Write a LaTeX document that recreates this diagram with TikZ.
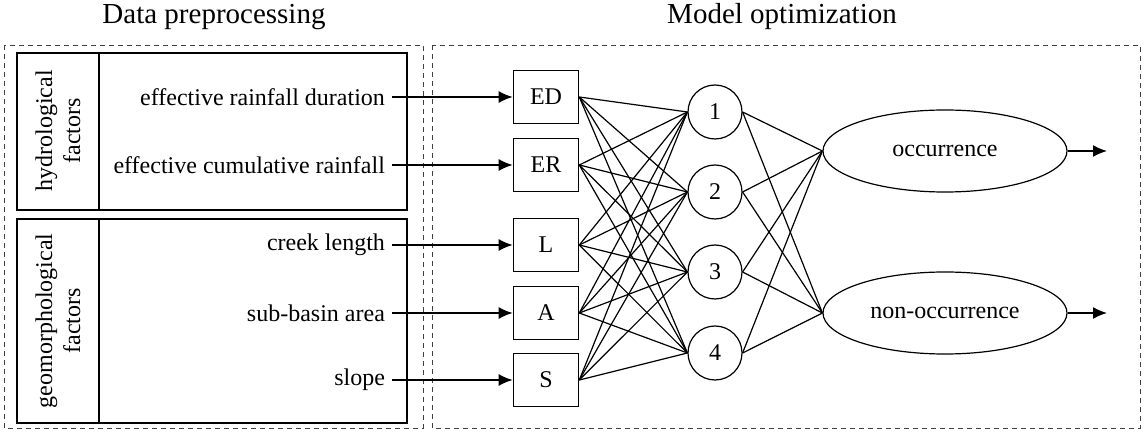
\documentclass[tikz,border=0pt]{standalone}
\usepackage{fontspec}
\setmainfont{Liberation Serif}
\usetikzlibrary{arrows.meta,shapes.geometric}
\tikzset{
  lbl/.style={font=\fontsize{12}{14}\selectfont},
  ttl/.style={font=\fontsize{14.5}{17}\selectfont},
  frame/.style={draw=black!75,dash pattern=on 2.5pt off 2pt},
  inbox/.style={draw,thick,minimum width=32.5pt,minimum height=26.5pt,inner sep=0pt,lbl},
  hid/.style={draw,semithick,circle,minimum size=27pt,inner sep=0pt,lbl},
  outell/.style={draw,semithick,ellipse,minimum width=122pt,minimum height=41pt,inner sep=0pt,lbl},
  wire/.style={semithick},
  feed/.style={-{Latex[length=7pt,width=6pt]},thick},
}
\begin{document}
\begin{tikzpicture}[x=0.5pt,y=-0.5pt]
  \useasboundingbox (0,0) rectangle (1145,432);
  % titles and frames
  \node[ttl] (tdata) at (214,17) {Data preprocessing};
  \node[ttl] (tmodel) at (782,17) {Model optimization};
  \draw[frame] (4,45) rectangle (423,428);
  \draw[frame] (432,45) rectangle (1140,428);
  % factor groups
  \draw[thick] (17,53) rectangle (407,210); \draw[thick] (99,53)--(99,210);
  \draw[thick] (17,219) rectangle (407,423); \draw[thick] (99,219)--(99,423);
  \node[lbl,rotate=90,align=center] (hyd) at (58,131) {hydrological\\factors};
  \node[lbl,rotate=90,align=center] (geo) at (58,321) {geomorphological\\factors};
  \node[lbl,anchor=east] (fED) at (392,97) {effective rainfall duration};
  \node[lbl,anchor=east] (fER) at (392,165) {effective cumulative rainfall};
  \node[lbl,anchor=east] (fL) at (392,245) {creek length};
  \node[lbl,anchor=east] (fA) at (392,313) {sub-basin area};
  \node[lbl,anchor=east] (fS) at (392,380) {slope};
  % input layer
  \node[inbox] (ED) at (546,97) {ED};
  \node[inbox] (ER) at (546,165) {ER};
  \node[inbox] (L) at (546,245) {L};
  \node[inbox] (A) at (546,313) {A};
  \node[inbox] (S) at (546,380) {S};
  \foreach \f in {ED,ER,L,A,S} \draw[feed] (f\f.east) -- (\f.west);
  % hidden layer
  \node[hid] (h1) at (715,112) {1};
  \node[hid] (h2) at (715,192) {2};
  \node[hid] (h3) at (715,272) {3};
  \node[hid] (h4) at (715,353) {4};
  \foreach \i in {ED,ER,L,A,S}
    \foreach \j in {1,2,3,4} \draw[wire] (\i.east) -- (h\j.west);
  % output layer
  \node[outell] (occ) at (945,151) {occurrence};
  \node[outell] (non) at (945,313) {non-occurrence};
  \foreach \j in {1,2,3,4} {
    \draw[wire] (h\j.east) -- (occ.west);
    \draw[wire] (h\j.east) -- (non.west);
  }
  \coordinate (eocc) at (1107,151);
  \coordinate (enon) at (1107,313);
  \draw[feed] (occ.east) -- (eocc);
  \draw[feed] (non.east) -- (enon);
\end{tikzpicture}
\end{document}
